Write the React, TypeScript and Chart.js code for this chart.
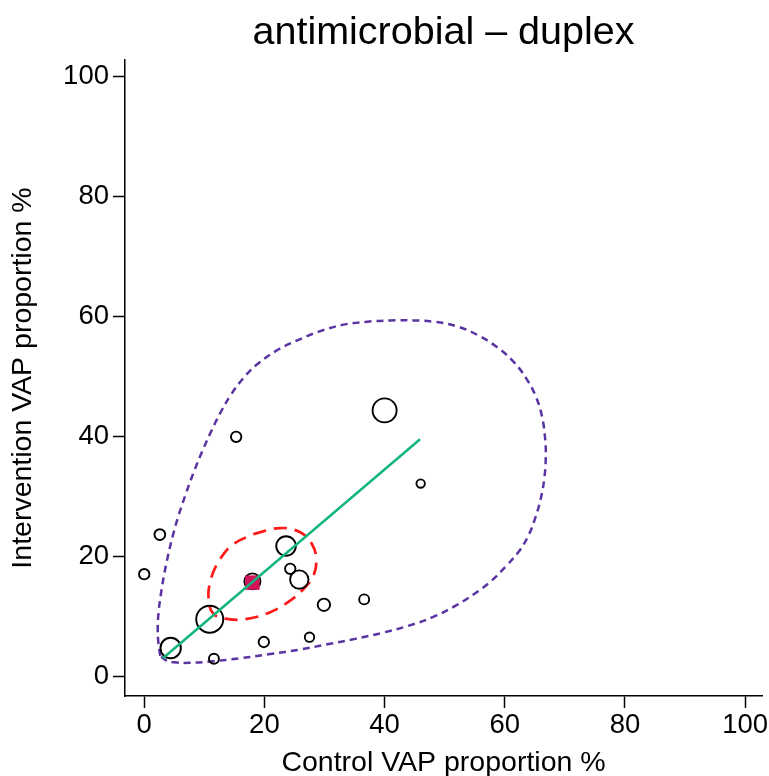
import React, { useEffect, useRef } from "react";
import { Chart, registerables } from "chart.js";

Chart.register(...registerables);

const titleText = "antimicrobial \u2013 duplex";
const xTitle = "Control VAP proportion %";
const yTitle = "Intervention VAP proportion %";
const tickValues = [0, 20, 40, 60, 80, 100];

// study-level points
const controlPct = [40.0, 15.3, 46.0, 2.6, 0.0, 23.6, 24.3, 25.8, 18.0, 29.9, 36.6, 10.9, 19.9, 27.5, 4.4, 11.6];
const interventionPct = [44.4, 40.0, 32.2, 23.7, 17.1, 21.8, 18.0, 16.2, 15.9, 12.0, 12.9, 9.6, 5.8, 6.6, 4.8, 3.0];
const studySize = [12, 5.2, 4.2, 5.4, 5.2, 9.8, 5.2, 9.2, 8, 6.2, 5, 13.5, 5.2, 4.7, 10.2, 5];

// pooled estimate
const pooledX = [18.0];
const pooledY = [15.7];

// regression line
const fitX = [3.1, 45.9];
const fitY = [3.1, 39.6];

// confidence ellipse
const ellipseX = [18.19, 22.63, 25.96, 27.9, 28.62, 28.17, 26.51, 24.29, 20.97, 17.09, 13.76, 11.53, 10.7, 11.1, 12.65, 14.86, 18.19];
const ellipseY = [23.79, 24.79, 24.08, 22.13, 19.63, 16.86, 14.64, 12.7, 10.77, 9.65, 9.65, 10.48, 12.98, 16.31, 19.63, 22.13, 23.79];

// prediction contour
const contourX = [
  2.66, 2.33, 2.25, 2.41, 2.75, 3.24, 3.91, 4.74, 5.74, 6.91, 8.24, 9.73, 11.31, 12.81, 14.48, 16.47, 18.8, 21.8,
  25.29, 28.95, 32.95, 36.77, 40.93, 44.76, 48.42, 52.08, 55.57, 58.74, 61.4, 63.56, 65.22, 66.22, 66.72, 66.81,
  66.56, 65.97, 65.06, 63.98, 62.4, 60.23, 57.74, 54.91, 51.75, 48.09, 43.93, 39.6, 35.11, 30.45, 25.62, 20.63,
  15.81, 11.31, 7.65, 4.99, 3.49, 2.66,
];
const contourY = [
  3.49, 5.99, 8.32, 10.98, 13.64, 16.64, 19.97, 23.46, 26.96, 30.45, 34.11, 37.77, 41.26, 44.26, 47.09, 49.75, 52.08, 54.24,
  55.99, 57.49, 58.65, 59.15, 59.4, 59.4, 59.15, 58.4, 56.91, 54.91, 52.58, 49.75, 46.59, 43.26, 39.6, 36.27,
  32.95, 29.62, 26.46, 23.63, 20.97, 18.47, 15.97, 13.81, 11.81, 9.98, 8.49, 7.32, 6.32, 5.41, 4.49, 3.74,
  3.08, 2.58, 2.33, 2.41, 2.83, 3.49,
];

const FONT = '"Liberation Sans", Arial, Helvetica, sans-serif';

const zip = (xs: number[], ys: number[]) => xs.map((x, i) => ({ x, y: ys[i] }));

export default function App() {
  const ref = useRef<HTMLCanvasElement | null>(null);

  useEffect(() => {
    if (!ref.current) return;
    const titlePlugin = {
      id: "customTitle",
      afterDraw(chart: any) {
        const { ctx, chartArea } = chart;
        ctx.save();
        ctx.fillStyle = "#000";
        ctx.font = `39.5px ${FONT}`;
        ctx.textAlign = "center";
        ctx.textBaseline = "middle";
        ctx.fillText(titleText, (chartArea.left + chartArea.right) / 2, 33.5);
        ctx.restore();
      },
    };
    const axisCommon = (isX: boolean, title: string) => ({
      type: "linear" as const,
      min: -3.2,
      max: 102.8,
      border: { display: true, color: "#000", width: 1.5 },
      grid: {
        display: true,
        drawOnChartArea: false,
        drawTicks: true,
        tickLength: 12,
        tickColor: "#000",
        tickWidth: 1.5,
      },
      ticks: {
        color: "#000",
        font: { family: FONT, size: 27.5 },
        padding: isX ? 1 : 4,
        maxRotation: 0,
        autoSkip: false,
      },
      title: {
        display: true,
        text: title,
        color: "#000",
        font: { family: FONT, size: 28.5 },
        padding: isX ? { top: 0, bottom: -4 } : { top: 6, bottom: 0 },
      },
      afterBuildTicks(scale: any) {
        scale.ticks = tickValues.map((v) => ({ value: v }));
      },
      afterFit(scale: any) {
        if (isX) {
          scale.height = 80;
          scale.paddingLeft = 0;
          scale.paddingRight = 0;
        } else {
          scale.width = 125;
          scale.paddingTop = 0;
          scale.paddingBottom = 0;
        }
      },
    });

    const chart = new Chart(ref.current, {
      type: "scatter",
      data: {
        datasets: [
          {
            type: "line",
            data: zip(fitX, fitY),
            borderColor: "#12b57c",
            borderWidth: 2.5,
            pointRadius: 0,
            tension: 0,
            fill: false,
            order: 0,
          } as any,
          {
            data: zip(pooledX, pooledY),
            pointStyle: "rect",
            pointRadius: 10.2,
            backgroundColor: "#d2145a",
            borderWidth: 0,
            order: 1,
          },
          {
            data: zip(controlPct, interventionPct),
            pointStyle: "circle",
            pointRadius: studySize,
            backgroundColor: "rgba(0,0,0,0)",
            borderColor: "#000",
            borderWidth: 1.9,
            order: 2,
          },
          {
            type: "line",
            data: zip(ellipseX, ellipseY),
            borderColor: "#ff1a1a",
            borderWidth: 2.7,
            borderDash: [13, 8],
            pointRadius: 0,
            tension: 0.4,
            fill: false,
            order: 3,
          } as any,
          {
            type: "line",
            data: zip(contourX, contourY),
            borderColor: "#5a34a2",
            borderWidth: 2.5,
            borderDash: [7, 5],
            pointRadius: 0,
            tension: 0.4,
            fill: false,
            order: 4,
          } as any,
        ],
      },
      options: {
        animation: false,
        responsive: false,
        events: [],
        layout: { autoPadding: false, padding: { top: 60, right: 7, left: 0, bottom: 0 } },
        plugins: {
          legend: { display: false },
          tooltip: { enabled: false },
          title: { display: false },
        },
        scales: {
          x: axisCommon(true, xTitle) as any,
          y: axisCommon(false, yTitle) as any,
        },
      },
      plugins: [titlePlugin],
    });
    return () => chart.destroy();
  }, []);

  return (
    <div style={{ position: "absolute", left: 0, top: 0, width: 769, height: 776, background: "#fff" }}>
      <canvas ref={ref} width={769} height={776} style={{ display: "block" }} />
    </div>
  );
}
